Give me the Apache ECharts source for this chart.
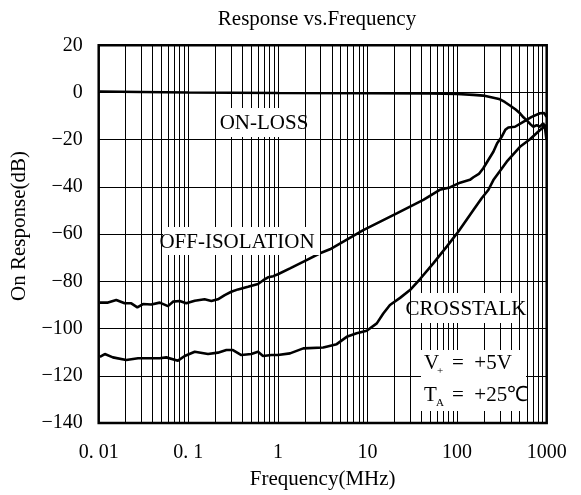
<!DOCTYPE html>
<html><head><meta charset="utf-8">
<script src="https://cdn.jsdelivr.net/npm/echarts@6/dist/echarts.min.js"></script>
<style>html,body{margin:0;padding:0;background:#fff}#c{width:581px;height:495px}</style>
</head><body><div id="c"></div>
<script>
// ---- data ----
const freqTickLabels = ['0. 01', '0. 1', '1', '10', '100', '1000'];
const dbTicks = [20, 0, -20, -40, -60, -80, -100, -120, -140];

const onLossFreq = [0.0103, 0.03, 0.1, 1, 10, 50, 100, 152, 196, 240, 277, 301, 340, 389, 450, 503, 550, 607, 660, 709, 773, 842, 916, 960, 995];
const onLossDb   = [0.4, 0.2, 0, -0.2, -0.3, -0.4, -0.6, -1.0, -1.3, -2.0, -2.5, -2.9, -4.0, -5.5, -7.2, -8.8, -10.5, -12, -13.5, -14.5, -13.8, -14.5, -13, -15.5, -20];

const offIsoFreq = [0.0103, 0.0127, 0.0157, 0.0195, 0.0231, 0.027, 0.0312, 0.0386, 0.048, 0.0593, 0.0675, 0.080, 0.095, 0.118, 0.152, 0.181, 0.214, 0.255, 0.302, 0.359, 0.464, 0.600, 0.687, 0.776, 0.889, 1.0, 1.365, 2.09, 2.95, 3.81, 8.97, 21.2, 42, 64, 83, 108, 139, 152, 175, 196, 223, 254, 280, 315, 345, 373, 443, 548, 680, 842, 940, 995];
const offIsoDb   = [-89, -89, -87.9, -89.3, -89.3, -91, -89.6, -89.8, -89, -90.5, -88.6, -88.3, -89.3, -88.2, -87.6, -88.3, -87.6, -85.8, -84.4, -83.4, -82.3, -81.1, -79.5, -78.3, -77.8, -77, -74.5, -71, -68.1, -66.4, -58.3, -51.2, -45.5, -41.2, -40.2, -38.2, -37, -35.9, -34.5, -32.1, -28.6, -25.1, -21.5, -18.7, -15.8, -14.8, -14.5, -12.4, -10.3, -8.8, -8.7, -10.3];

const crosstalkFreq = [0.0103, 0.0117, 0.0144, 0.0203, 0.0275, 0.0355, 0.048, 0.0568, 0.0767, 0.0912, 0.118, 0.166, 0.214, 0.266, 0.315, 0.391, 0.505, 0.600, 0.682, 0.844, 1.0, 1.365, 1.92, 3.21, 4.53, 5.86, 7.57, 9.8, 12.7, 15, 17.8, 23.1, 29.8, 38.6, 54.2, 76.6, 103, 152, 188, 223, 254, 358, 503, 651, 842, 995];
const crosstalkDb   = [-112, -110.8, -112.2, -113.3, -112.6, -112.6, -112.6, -112.2, -113.6, -111.6, -109.8, -110.8, -110.2, -109.1, -109.1, -111.2, -110.8, -109.8, -111.6, -111.2, -111.2, -110.5, -108.4, -108, -106.6, -103.5, -102, -100.9, -97.8, -93.6, -90, -87, -83.7, -79, -72.4, -65.3, -59, -49.8, -44.8, -41.3, -37.1, -29.3, -23, -19.8, -15.9, -13.8];

// ---- build ----
const zip = (xs, ys) => xs.map((x, i) => [x, ys[i]]);
const FF = '"Liberation Serif", "Times New Roman", serif';

// log-decade minor grid lines (2..9 in each decade)
const minorGrid = [];
for (let d = -2; d < 3; d++) for (let k = 2; k <= 9; k++) minorGrid.push({ xAxis: k * Math.pow(10, d) });

const curve = (name, data) => ({
  name, type: 'line', data, showSymbol: false, symbol: 'none', z: 5,
  lineStyle: { color: '#000', width: 2.6 }, silent: true
});
const txt = (x, y, text, size, center) => ({
  type: 'text', z: 21, x, y,
  style: Object.assign({ text, font: size + 'px ' + FF, fill: '#000' },
    center ? { textAlign: 'center', textVerticalAlign: 'middle', align: 'center', verticalAlign: 'middle' } : {})
});

const chart = echarts.init(document.getElementById('c'), null, { renderer: 'canvas' });
chart.setOption({
  animation: false,
  backgroundColor: '#fff',
  title: {
    text: 'Response vs.Frequency', left: 312, top: 4, textAlign: 'center',
    textStyle: { fontFamily: FF, fontSize: 21, fontWeight: 'normal', color: '#000' }
  },
  grid: {
    left: 98.7, right: 34.3, top: 45.3, bottom: 72, show: true,
    borderColor: '#000', borderWidth: 2.5, backgroundColor: 'transparent',
    outerBoundsMode: 'none', containLabel: false
  },
  xAxis: {
    type: 'log', logBase: 10, min: 0.01, max: 1000, splitNumber: 5,
    axisLine: { show: false }, axisTick: { show: false },
    splitLine: { show: true, lineStyle: { color: '#000', width: 1 } },
    axisLabel: {
      margin: 20, fontFamily: FF, fontSize: 20, color: '#000',
      formatter: v => freqTickLabels[Math.round(Math.log10(v)) + 2]
    },
    name: 'Frequency(MHz)', nameLocation: 'middle', nameGap: 46,
    nameTextStyle: { fontFamily: FF, fontSize: 21, color: '#000' }
  },
  yAxis: {
    type: 'value', min: -140, max: 20, interval: 20,
    axisLine: { show: false }, axisTick: { show: false },
    splitLine: { show: true, lineStyle: { color: '#000', width: 1 } },
    axisLabel: {
      margin: 16, fontFamily: FF, fontSize: 20, color: '#000',
      formatter: v => String(dbTicks[dbTicks.indexOf(v)]).replace('-', '\u2212')
    }
  },
  series: [
    {
      type: 'line', data: [], z: 1, silent: true,
      markLine: {
        silent: true, symbol: 'none', label: { show: false }, animation: false,
        lineStyle: { color: '#000', width: 1, type: 'solid' },
        emphasis: { disabled: true },
        data: minorGrid
      }
    },
    curve('ON-LOSS', zip(onLossFreq, onLossDb)),
    curve('OFF-ISOLATION', zip(offIsoFreq, offIsoDb)),
    curve('CROSSTALK', zip(crosstalkFreq, crosstalkDb))
  ],
  graphic: [
    { type: 'text', z: 21, x: 19, y: 226, rotation: Math.PI / 2,
      style: { text: 'On Response(dB)', font: '21px ' + FF, fill: '#000', textAlign: 'center', textVerticalAlign: 'middle', align: 'center', verticalAlign: 'middle' } },
    { type: 'rect', z: 20, shape: { x: 223, y: 108, width: 82, height: 29 }, style: { fill: '#fff' } },
    txt(264, 123, 'ON-LOSS', 21, true),
    { type: 'rect', z: 20, shape: { x: 163, y: 227, width: 157, height: 28 }, style: { fill: '#fff' } },
    txt(237, 242, 'OFF-ISOLATION', 21, true),
    { type: 'rect', z: 20, shape: { x: 415, y: 293, width: 102, height: 30 }, style: { fill: '#fff' } },
    txt(466, 309, 'CROSSTALK', 21, true),
    { type: 'rect', z: 20, shape: { x: 421, y: 350, width: 105, height: 61 }, style: { fill: '#fff' } },
    txt(424, 353, 'V', 21),
    txt(437, 366, '+', 11),
    txt(452, 353, '=  +5V', 21),
    txt(424, 385, 'T', 21),
    txt(436, 398, 'A', 11),
    txt(452, 385, '=  +25\u2103', 21)
  ]
});
</script></body></html>
